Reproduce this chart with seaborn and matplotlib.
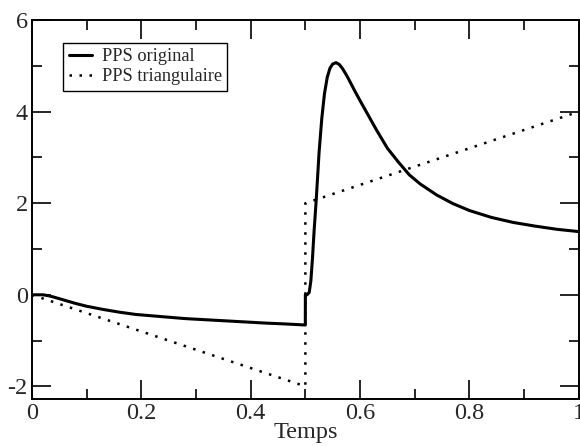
import numpy as np
import pandas as pd
import matplotlib
matplotlib.use("Agg")
import matplotlib.pyplot as plt
from matplotlib.ticker import MultipleLocator
import seaborn as sns

# PPS original
t_orig = [0, 0.01, 0.02, 0.03, 0.04, 0.06, 0.08, 0.10, 0.13, 0.16, 0.19, 0.22,
          0.25, 0.28, 0.31, 0.34, 0.37, 0.40, 0.43, 0.46, 0.4999, 0.5, 0.503,
          0.507, 0.510, 0.513, 0.516, 0.520, 0.525, 0.530, 0.535, 0.540, 0.545,
          0.550, 0.556, 0.562, 0.568, 0.575, 0.58, 0.59, 0.60, 0.615, 0.63,
          0.65, 0.67, 0.69, 0.71, 0.74, 0.77, 0.80, 0.84, 0.88, 0.92, 0.96, 1.0]
pps_orig = [0, 0, 0, -0.02, -0.05, -0.12, -0.19, -0.25, -0.32, -0.38, -0.43, -0.46,
            -0.49, -0.52, -0.54, -0.56, -0.58, -0.60, -0.62, -0.635, -0.66, 0.0, 0.0,
            0.05, 0.3, 0.8, 1.4, 2.1, 3.1, 3.85, 4.4, 4.75, 4.95,
            5.04, 5.07, 5.03, 4.94, 4.8, 4.69, 4.46, 4.24, 3.92, 3.6,
            3.2, 2.9, 2.62, 2.42, 2.18, 1.99, 1.84, 1.69, 1.58, 1.5, 1.43, 1.38]

# PPS triangulaire
t_tri = [0, 0.5, 0.5, 1.0]
pps_tri = [0, -2, 2, 4]

x_ticks = [0, 0.2, 0.4, 0.6, 0.8, 1.0]
x_labels = ["0", "0.2", "0.4", "0.6", "0.8", "1"]
y_ticks = [-2, 0, 2, 4, 6]
y_labels = ["-2", "0", "2", "4", "6"]

df_orig = pd.DataFrame({"Temps": t_orig, "PPS": pps_orig})
df_tri = pd.DataFrame({"Temps": t_tri, "PPS": pps_tri})

sns.set_style("ticks")
plt.rcParams["font.family"] = ["Liberation Serif", "DejaVu Serif"]

fig = plt.figure(figsize=(5.8, 4.46), dpi=100)
ax = fig.add_axes([0.055, 0.105, 0.943, 0.85])

sns.lineplot(data=df_orig, x="Temps", y="PPS", ax=ax, color="black", linewidth=2.2,
             estimator=None, sort=False, label="PPS original")
sns.lineplot(data=df_tri, x="Temps", y="PPS", ax=ax, color="black", linewidth=1.8,
             linestyle=(0, (1, 3)), estimator=None, sort=False, label="PPS triangulaire")

ax.set_xticks(x_ticks)
ax.set_xticklabels(x_labels)
ax.set_yticks(y_ticks)
ax.set_yticklabels(y_labels)
ax.xaxis.set_minor_locator(MultipleLocator(0.1))
ax.yaxis.set_minor_locator(MultipleLocator(1))
ax.set_xlim(0, 1)
ax.set_ylim(-2.28, 6)
ax.tick_params(which="both", direction="in", top=True, right=True, color="black",
               labelsize=17.5, width=1.2)
ax.tick_params(axis="x", pad=3)
ax.tick_params(axis="y", pad=3)
ax.tick_params(which="major", length=14)
ax.tick_params(which="minor", length=7)
for s in ax.spines.values():
    s.set_linewidth(1.4)
    s.set_color("black")

ax.set_xlabel("Temps", fontsize=17.5, labelpad=-1.5)
ax.set_ylabel("")

leg = ax.legend(loc="upper left", bbox_to_anchor=(0.057, 0.94), fontsize=13.2,
                frameon=True, fancybox=False, handlelength=1.3, handletextpad=0.5,
                borderpad=0.3, labelspacing=0.15, borderaxespad=0)
leg.get_frame().set_edgecolor("black")
leg.get_frame().set_linewidth(1.0)
leg.get_frame().set_alpha(1)

fig.savefig("out.png", dpi=100)
